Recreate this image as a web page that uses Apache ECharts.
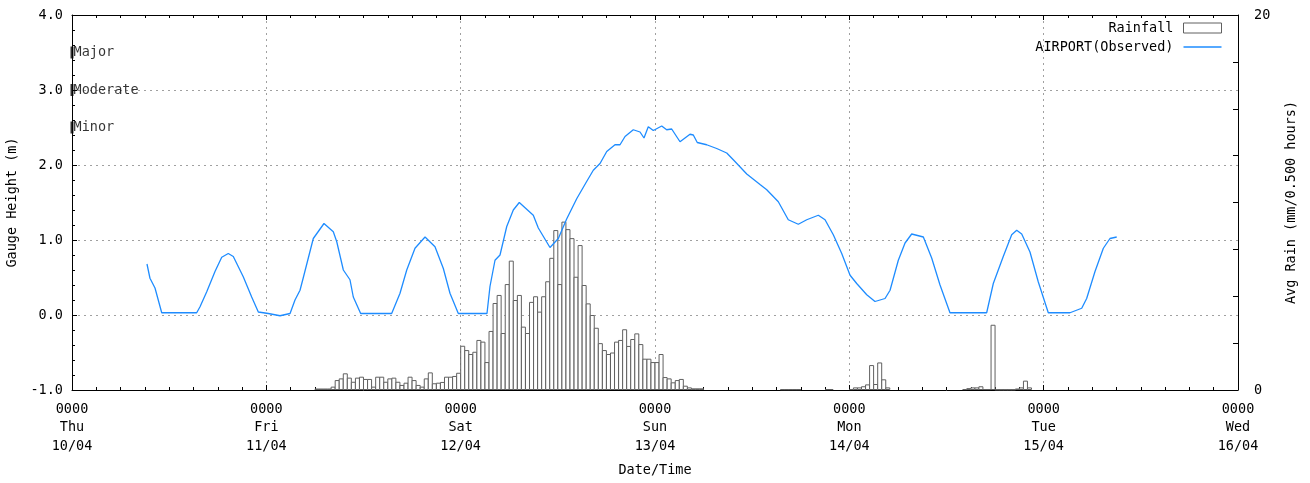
<!DOCTYPE html>
<html>
<head>
<meta charset="utf-8">
<script src="https://cdn.jsdelivr.net/npm/echarts@6/dist/echarts.min.js"></script>
<style>
html,body{margin:0;padding:0;background:#fff;}
#chart{width:1310px;height:483px;}
</style>
</head>
<body>
<div id="chart"></div>
<script>
// X axis: hours since Thu 10/04 00:00
const xTickLabels = ['0000\nThu\n10/04','0000\nFri\n11/04','0000\nSat\n12/04','0000\nSun\n13/04','0000\nMon\n14/04','0000\nTue\n15/04','0000\nWed\n16/04'];

// Gauge height (m), AIRPORT(Observed)
const levelHours = [9.26,9.63,10.25,11.08,15.4,15.81,16.64,17.66,18.49,19.3,19.92,21.15,22.19,23.01,24.24,25.69,26.93,27.54,28.16,28.57,29.8,31.12,32.27,32.69,33.51,34.33,34.74,35.65,39.48,40.51,41.34,42.36,43.6,44.83,45.86,46.68,47.71,51.25,51.62,52.24,52.86,53.69,54.5,55.24,56.97,57.59,59.03,60.06,61.09,62.33,63.56,64.38,65.21,66.04,67.06,67.68,68.3,69.32,70.15,70.64,71.17,71.79,72.83,73.44,74.06,75.09,76.32,76.73,77.22,78.38,79.62,80.86,81.67,83.33,84.97,85.8,87.23,88.46,89.7,90.74,92.17,93.0,94.02,95.06,96.09,96.91,98.15,99.17,100.41,101.03,102.05,102.88,103.7,105.14,106.17,107.2,108.43,112.96,113.78,115.01,116.05,116.67,117.29,118.31,119.34,120.57,123.25,124.7,125.31,126.34,127.37,128.19,129.02];
const levelValues = [0.68,0.49,0.36,0.03,0.03,0.11,0.31,0.58,0.77,0.82,0.78,0.51,0.24,0.04,0.02,-0.01,0.02,0.2,0.33,0.5,1.02,1.22,1.11,0.98,0.6,0.47,0.24,0.02,0.02,0.29,0.6,0.89,1.04,0.91,0.62,0.29,0.02,0.02,0.38,0.73,0.8,1.18,1.4,1.5,1.33,1.16,0.9,1.02,1.28,1.55,1.78,1.93,2.02,2.18,2.27,2.27,2.38,2.47,2.44,2.36,2.51,2.46,2.52,2.47,2.48,2.31,2.41,2.4,2.3,2.27,2.22,2.16,2.07,1.88,1.74,1.67,1.51,1.27,1.21,1.27,1.33,1.27,1.07,0.82,0.53,0.42,0.27,0.18,0.22,0.33,0.73,0.96,1.08,1.04,0.76,0.4,0.03,0.03,0.42,0.78,1.07,1.13,1.08,0.84,0.44,0.03,0.03,0.09,0.22,0.58,0.89,1.02,1.04];

// Rainfall (mm per 0.5 h), half-hour periods; start = hours since Thu 00:00
const rainFriSunStart = 30;
const rainFriSun = [0.08,0.08,0.08,0.08,0.18,0.53,0.62,0.89,0.66,0.44,
 0.66,0.71,0.59,0.59,0.18,0.71,0.71,0.44,0.62,0.66,
 0.44,0.27,0.39,0.71,0.53,0.27,0.18,0.62,0.94,0.36,
 0.39,0.43,0.71,0.71,0.75,0.92,2.36,2.13,1.92,2.04,
 2.67,2.58,1.49,3.15,4.64,5.07,3.04,5.65,6.9,4.8,
 5.07,3.38,3.04,4.7,5.0,4.18,5.0,5.8,7.05,8.53,
 5.65,8.98,8.58,8.1,6.04,7.73,5.6,4.62,4.0,3.32,
 2.5,2.13,1.92,2.0,2.58,2.67,3.24,2.35,2.72,3.02,
 2.45,1.67,1.67,1.49,1.49,1.92,0.69,0.62,0.41,0.53,
 0.59,0.23,0.14,0.09,0.09,0.09];
const rainSunStart = 87.5;
const rainSun = [0.04,0.04,0.04,0.04,0.04];
const rainSunLateStart = 93;
const rainSunLate = [0.05,0.05];
const rainMonStart = 96;
const rainMon = [0.05,0.14,0.14,0.2,0.3,1.33,0.32,1.47,0.57,0.14];
const rainTueStart = 110;
const rainTue = [0.05,0.1,0.14,0.14,0.2,0.05,0.05,3.48,0.03,0.03,0.03,0.03,0.03,0.08,0.14,0.5,0.14];

// Flood classification levels
const floodNames = ['Major','Moderate','Minor'];
const floodLevels = [3.5, 3.0, 2.5];

const FONT = 'DejaVu Sans Mono';
const FS = 13.5;

function seg(start, vals){ return vals.map((v,k)=>[start + k*0.5 + 0.25, v]); }
const rainData = [].concat(
  seg(rainFriSunStart, rainFriSun),
  seg(rainSunStart, rainSun),
  seg(rainSunLateStart, rainSunLate),
  seg(rainMonStart, rainMon),
  seg(rainTueStart, rainTue)
);
const levelData = levelHours.map((h,i)=>[h, levelValues[i]]);
const floodData = floodLevels.map((v,i)=>({value:[0, v], name: floodNames[i]}));

const chart = echarts.init(document.getElementById('chart'), null, {renderer:'canvas'});
const gridDash = {color:'#a0a0a0', type:[2,4], width:1};
const LINE_BLUE = '#1e8cff';
chart.setOption({
  animation:false,
  backgroundColor:'#fff',
  textStyle:{fontFamily:FONT, fontSize:FS, color:'#000'},
  grid:{left:72, right:72, top:15, bottom:93, containLabel:false, outerBoundsMode:'none'},
  legend:{
    orient:'vertical', right:83, top:16, align:'right',
    itemWidth:38, itemHeight:10, itemGap:5,
    textStyle:{fontFamily:FONT, fontSize:FS, color:'#000', padding:[0,5,0,0]},
    data:[
      {name:'Rainfall', icon:'rect', itemStyle:{color:'#fff', borderColor:'#606060', borderWidth:1}},
      {name:'AIRPORT(Observed)', icon:'path://M0,0L38,0L38,1.4L0,1.4Z', itemStyle:{color:LINE_BLUE}}
    ]
  },
  xAxis:[{
    type:'value', min:0, max:144, interval:24,
    name:'Date/Time', nameLocation:'middle', nameGap:73,
    nameTextStyle:{fontFamily:FONT, fontSize:FS, color:'#000'},
    axisLine:{show:true, onZero:false, lineStyle:{color:'#000', width:1}},
    axisTick:{show:true, inside:true, length:5, lineStyle:{color:'#000'}},
    minorTick:{show:true, splitNumber:8, length:3, lineStyle:{color:'#000'}},
    axisLabel:{fontFamily:FONT, fontSize:FS, color:'#000', margin:10, lineHeight:18.5,
      showMinLabel:true, showMaxLabel:true,
      formatter:v=>xTickLabels[Math.round(v/24)] || ''},
    splitLine:{show:true, lineStyle:gridDash}
  },{
    type:'value', min:0, max:144, interval:24, position:'top',
    axisLine:{show:true, onZero:false, lineStyle:{color:'#000', width:1}},
    axisTick:{show:true, inside:true, length:5, lineStyle:{color:'#000'}},
    minorTick:{show:true, splitNumber:8, length:3, lineStyle:{color:'#000'}},
    axisLabel:{show:false}, splitLine:{show:false}
  }],
  yAxis:[{
    type:'value', min:-1, max:4, interval:1,
    name:'Gauge Height (m)', nameLocation:'middle', nameGap:48, nameRotate:90,
    nameTextStyle:{fontFamily:FONT, fontSize:FS, color:'#000'},
    axisLine:{show:true, onZero:false, lineStyle:{color:'#000', width:1}},
    axisTick:{show:true, inside:true, length:5, lineStyle:{color:'#000'}},
    minorTick:{show:true, splitNumber:5, length:3, lineStyle:{color:'#000'}},
    axisLabel:{fontFamily:FONT, fontSize:FS, color:'#000', margin:9, formatter:v=>v.toFixed(1)},
    splitLine:{show:true, lineStyle:gridDash}
  },{
    type:'value', min:0, max:20, interval:2.5, position:'right',
    name:'Avg Rain (mm/0.500 hours)', nameLocation:'middle', nameGap:46, nameRotate:90,
    nameTextStyle:{fontFamily:FONT, fontSize:FS, color:'#000'},
    axisLine:{show:true, onZero:false, lineStyle:{color:'#000', width:1}},
    axisTick:{show:true, inside:true, length:5, lineStyle:{color:'#000'}},
    axisLabel:{fontFamily:FONT, fontSize:FS, color:'#000', margin:16,
      formatter:v=>(v===0||v===20)?String(v):''},
    splitLine:{show:false}
  }],
  series:[{
    name:'Rainfall', type:'bar', xAxisIndex:0, yAxisIndex:1,
    data:rainData, barWidth:5, barGap:'-100%',
    itemStyle:{color:'#fff', borderColor:'#606060', borderWidth:1},
    z:2
  },{
    name:'AIRPORT(Observed)', type:'line', xAxisIndex:0, yAxisIndex:0,
    data:levelData, showSymbol:false, symbol:'none',
    lineStyle:{color:LINE_BLUE, width:1.3}, itemStyle:{color:LINE_BLUE},
    z:5
  },{
    name:'Flood', type:'scatter', xAxisIndex:0, yAxisIndex:0,
    data:floodData, symbol:'rect', symbolSize:[3,12],
    itemStyle:{color:'#000'}, clip:false, silent:true,
    label:{show:true, position:'right', distance:0, formatter:p=>p.name,
      fontFamily:FONT, fontSize:FS, color:'#000'},
    z:6
  }]
});
</script>
</body>
</html>
